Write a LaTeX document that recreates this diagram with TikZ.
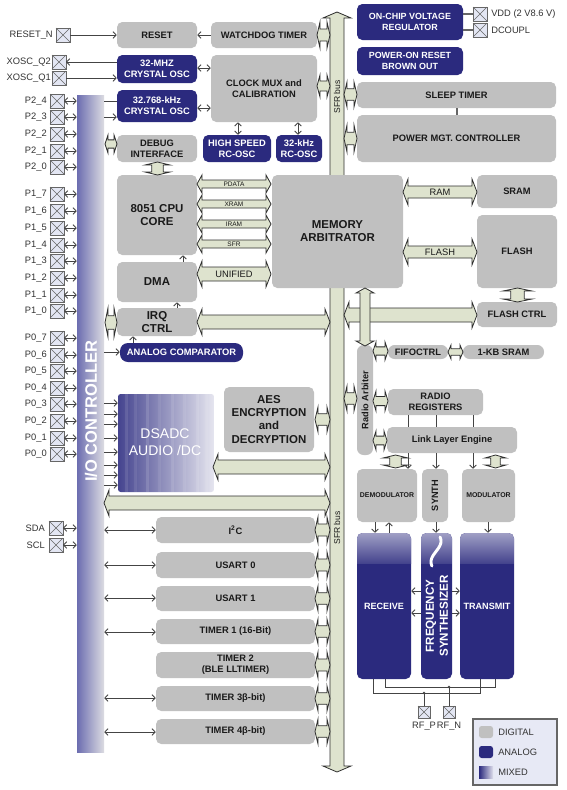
\documentclass[tikz,border=0pt]{standalone}
\usepackage{fontspec}
\setmainfont{Liberation Sans}
\usetikzlibrary{arrows.meta}
\definecolor{dg}{HTML}{C0C0C0}
\definecolor{db}{HTML}{2B2A7E}
\definecolor{lg}{HTML}{DEE3CE}
\definecolor{padf}{HTML}{E3E6F3}
\definecolor{padd}{HTML}{666666}
\definecolor{ioL}{HTML}{6C6DB0}
\definecolor{ioR}{HTML}{DCDCE2}
\definecolor{tx}{HTML}{1A1A1A}
\definecolor{ln}{HTML}{444444}
\definecolor{fatd}{HTML}{2F2F2F}
\definecolor{pint}{HTML}{333333}
\definecolor{legf}{HTML}{E7E9F5}
\newcommand\mkbox[7]{\node[#1,minimum width={(#5-#3)*0.75pt},minimum height={(#6-#4)*0.75pt}] (#2) at ({(#3+#5)/2},{(#4+#6)/2}) {#7};}
\newcommand\mkpad[4][padst]{\node[#1] (#2) at (#3,#4) {}; \draw[padd, line width=0.4pt] (#2.north west) -- (#2.south east) (#2.north east) -- (#2.south west);}
\newcommand\fatH[7][]{\filldraw[fat,#1] ({#2},{#4}) -- ({#2+#7},{#4-#6}) -- ({#2+#7},{#4-#5}) -- ({#3-#7},{#4-#5}) -- ({#3-#7},{#4-#6}) -- ({#3},{#4}) -- ({#3-#7},{#4+#6}) -- ({#3-#7},{#4+#5}) -- ({#2+#7},{#4+#5}) -- ({#2+#7},{#4+#6}) -- cycle;}
\newcommand\fatV[7][]{\filldraw[fat,#1] ({#2},{#3}) -- ({#2+#6},{#3+#7}) -- ({#2+#5},{#3+#7}) -- ({#2+#5},{#4-#7}) -- ({#2+#6},{#4-#7}) -- ({#2},{#4}) -- ({#2-#6},{#4-#7}) -- ({#2-#5},{#4-#7}) -- ({#2-#5},{#3+#7}) -- ({#2-#6},{#3+#7}) -- cycle;}
\newcommand\hgH[4]{\fatH{#1}{#2}{(#3+#4)/2}{0.23*(#4-#3)}{(#4-#3)/2}{3}}
\newcommand\hgV[4]{\fatV{(#1+#2)/2}{#3}{#4}{0.23*(#2-#1)}{(#2-#1)/2}{3}}
\newcommand\hc[4][]{\path (0,#4) coordinate (hcT); \draw[#1] (#2 |- hcT) -- (#3 |- hcT);}
\newcommand\vc[4][]{\path (#4,0) coordinate (vcT); \draw[#1] (#2 -| vcT) -- (#3 -| vcT);}
\begin{document}
\begin{tikzpicture}[x=0.75pt,y=-0.75pt,
 gb/.style={fill=dg, rounded corners=4pt, text=tx, align=center, inner sep=0pt, font=\fontsize{7}{8.3}\selectfont\bfseries},
 bb/.style={gb, fill=db, text=white},
 bigf/.style={font=\fontsize{8.6}{9.8}\selectfont\bfseries},
 arr/.style={draw=ln, line width=0.6pt, -{Straight Barb[length=2.4pt,width=5pt]}},
 darr/.style={draw=ln, line width=0.6pt, {Straight Barb[length=2.4pt,width=5pt]}-{Straight Barb[length=2.4pt,width=5pt]}},
 wire/.style={draw=ln, line width=0.7pt},
 fat/.style={fill=lg, draw=fatd, line width=0.6pt},
 padst/.style={draw=padd, fill=padf, line width=0.6pt, minimum size=10.5pt, inner sep=0pt, outer sep=0pt},
 pinlbl/.style={font=\fontsize{7}{8}\selectfont, text=pint, inner sep=0pt},
 smallf/.style={font=\fontsize{4.9}{6}\selectfont, text=tx, inner sep=0pt},
 midf/.style={font=\fontsize{7}{8}\selectfont, text=tx, inner sep=0pt},
 sfrl/.style={font=\fontsize{6.4}{7}\selectfont, text=tx, inner sep=0pt}]
\useasboundingbox (0,0) rectangle (567,790);
\fill[white] (0,0) rectangle (567,790);

% SFR bus
\fatV{337}{12}{772}{7}{14}{6}
\node[sfrl, rotate=90] (sfr1) at (337,97) {SFR bus};
\node[sfrl, rotate=90] (sfr2) at (337,528) {SFR bus};

% I/O controller bar
\mkbox{left color=ioL, right color=ioR, inner sep=0pt}{io}{77}{95}{104}{752}{}
\node[rotate=90, text=white, font=\fontsize{12.4}{14}\selectfont\bfseries] (iot) at (91,411) {I/O CONTROLLER};

% pins
\foreach \a/\b/\y in {2/4/101,2/3/117,2/2/134,2/1/151,2/0/167,1/7/194,1/6/211,1/5/228,1/4/245,1/3/261,1/2/278,1/1/295,1/0/311,0/7/338,0/6/355,0/5/371,0/4/388,0/3/404,0/2/421,0/1/438,0/0/454}{
 \mkpad{p\a\b}{57}{\y}
 \node[pinlbl, anchor=east] (l\a\b) at (47,\y) {P\a\_\b};
 \draw[darr] (p\a\b.east) -- (p\a\b.east -| io.west);
}
\mkpad{psda}{56}{528}
\node[pinlbl, anchor=east] (lsda) at (45,528) {SDA};
\draw[darr] (psda.east) -- (psda.east -| io.west);
\mkpad{pscl}{56}{545}
\node[pinlbl, anchor=east] (lscl) at (45,545) {SCL};
\draw[darr] (pscl.east) -- (pscl.east -| io.west);

\mkpad{prst}{63}{35}
\node[pinlbl, anchor=east] (lrst) at (53,35) {RESET\_N};
\mkpad{pq2}{59}{62}
\node[pinlbl, anchor=east] (lq2) at (51,62) {XOSC\_Q2};
\mkpad{pq1}{59}{78}
\node[pinlbl, anchor=east] (lq1) at (51,78) {XOSC\_Q1};

% top-left blocks
\mkbox{gb}{reset}{117}{22}{197}{48}{RESET}
\mkbox{gb}{wdt}{211}{22}{317}{48}{WATCHDOG TIMER}
\mkbox{bb}{x32m}{117}{55}{197}{83}{32-MHZ\\CRYSTAL OSC}
\mkbox{bb}{x32k}{117}{90}{197}{122}{32.768-kHz\\CRYSTAL OSC}
\mkbox{gb}{clk}{211}{55}{317}{122}{CLOCK MUX and\\CALIBRATION}
\mkbox{bb}{hsrc}{203}{135}{271}{162}{HIGH SPEED\\RC-OSC}
\mkbox{bb}{rc32}{276}{135}{322}{162}{32-kHz\\RC-OSC}
\mkbox{gb}{dbg}{117}{135}{197}{162}{DEBUG\\INTERFACE}
\mkbox{gb,bigf}{cpu}{117}{175}{197}{255}{8051 CPU\\CORE}
\mkbox{gb,bigf}{dma}{117}{262}{197}{302}{DMA}
\mkbox{gb,bigf}{irq}{117}{308}{197}{336}{IRQ\\CTRL}
\mkbox{bb,rounded corners=6pt}{acmp}{120}{343}{243}{362}{ANALOG COMPARATOR}
\mkbox{gb,bigf}{mem}{272}{175}{403}{288}{MEMORY\\ARBITRATOR}

% top-right blocks
\mkbox{bb,font=\fontsize{6.7}{8.2}\selectfont\bfseries}{vreg}{357}{4}{463}{40}{ON-CHIP VOLTAGE\\REGULATOR}
\mkbox{bb,font=\fontsize{6.7}{8.2}\selectfont\bfseries}{por}{357}{47}{463}{75}{POWER-ON RESET\\BROWN OUT}
\mkbox{gb}{sleep}{357}{82}{556}{108}{SLEEP TIMER}
\mkbox{gb}{pmc}{357}{115}{556}{162}{POWER MGT. CONTROLLER}
\mkbox{gb}{sram}{477}{175}{557}{208}{SRAM}
\mkbox{gb}{flash}{477}{215}{557}{288}{FLASH}
\mkbox{gb}{fctrl}{477}{302}{557}{327}{FLASH CTRL}
\mkbox{gb,rounded corners=5pt}{fifo}{388}{345}{448}{359}{FIFOCTRL}
\mkbox{gb,rounded corners=5pt}{ksram}{463}{345}{544}{359}{1-KB SRAM}

\mkpad{pvdd}{480}{14}
\node[pinlbl, anchor=west] (lvdd) at (491,14) {VDD (2 V8.6 V)};
\mkpad{pdc}{480}{30}
\node[pinlbl, anchor=west] (ldc) at (491,30) {DCOUPL};
\hc[draw=padd, line width=1.1pt]{vreg.east}{pvdd.west}{14}
\hc[draw=padd, line width=1.1pt]{vreg.east}{pdc.west}{30}
\vc[draw=padd, line width=0.8pt]{sleep.south}{pmc.north}{457}

% radio
\mkbox{gb,rounded corners=5pt}{rarb}{357}{345}{373}{455}{}
\node[rotate=90, font=\fontsize{6.9}{8}\selectfont\bfseries, text=tx] (rarbt) at (rarb) {Radio Arbiter};
\mkbox{gb}{rreg}{388}{389}{483}{415}{RADIO\\REGISTERS}
\mkbox{gb}{lle}{387}{427}{517}{453}{Link Layer Engine}
\mkbox{gb,font=\fontsize{5.2}{6}\selectfont\bfseries}{demod}{357}{469}{417}{522}{DEMODULATOR}
\mkbox{gb}{synth}{422}{469}{448}{522}{}
\node[rotate=90, font=\fontsize{6.9}{8}\selectfont\bfseries, text=tx] (syntht) at (synth) {SYNTH};
\mkbox{gb,font=\fontsize{5.2}{6}\selectfont\bfseries}{mod}{462}{469}{515}{522}{MODULATOR}

\mkbox{bb}{rx}{357}{533}{411}{679}{}
\mkbox{bb}{fs}{421}{533}{452}{679}{}
\mkbox{bb}{tx}{460}{533}{514}{679}{}
\foreach \xa/\xb in {357/411,421/452,460/514}{
 \begin{scope}
 \clip[rounded corners=4pt] (\xa,533) rectangle (\xb,679);
 \shade[top color=white!55!db, bottom color=white!12!db] (\xa,533) rectangle (\xb,563);
 \end{scope}
}
\node[font=\fontsize{6.8}{8}\selectfont\bfseries, text=white] (rxt) at (384,606) {RECEIVE};
\node[font=\fontsize{6.8}{8}\selectfont\bfseries, text=white] (txt) at (487,606) {TRANSMIT};
\node[rotate=90, align=center, font=\fontsize{8.7}{10.5}\selectfont\bfseries, text=white] (fst) at (437,616) {FREQUENCY\\SYNTHESIZER};
\draw[white, line width=2.2pt, line cap=round] plot[domain=0.15:0.85, samples=40, smooth] ({436+5*sin(360*\x)},{537+29*(\x-0.15)/0.7});

% middle blocks
\mkbox{gb,bigf}{aes}{224}{387}{314}{452}{AES\\ENCRYPTION\\and\\DECRYPTION}
\mkbox{left color=white!10!db!90!ioL, right color=white!88!db, rounded corners=2pt, inner sep=0pt}{ds}{118}{394}{214}{492}{}
\foreach \xx/\op in {125/0.10,134/0.08,146/0.12,158/0.07,171/0.10,183/0.08,196/0.10,205/0.08}{
 \fill[white, opacity=\op] (\xx,394) rectangle (\xx+3,492);
}
\node[align=center, text=white, font=\fontsize{10.5}{12.5}\selectfont] (dst) at (165,442) {DSADC\\AUDIO /DC};
\mkbox{gb}{i2c}{156}{517}{315}{543}{I\textsuperscript{2}C}
\mkbox{gb}{u0}{156}{552}{315}{578}{USART 0}
\mkbox{gb}{u1}{156}{586}{315}{611}{USART 1}
\mkbox{gb}{t1}{156}{619}{315}{644}{TIMER 1 (16-Bit)}
\mkbox{gb}{t2}{156}{652}{315}{678}{TIMER 2\\(BLE LLTIMER)}
\mkbox{gb}{t3}{156}{686}{315}{711}{TIMER 3β-bit)}
\mkbox{gb}{t4}{156}{719}{315}{744}{TIMER 4β-bit)}

% fat arrows
\fatH{197}{271}{184}{4}{9}{5}
\node[smallf] (lpd) at (234,184) {PDATA};
\fatH{197}{271}{204}{4}{9}{5}
\node[smallf] (lxr) at (234,204) {XRAM};
\fatH{197}{271}{224}{4}{9}{5}
\node[smallf] (lir) at (234,224) {IRAM};
\fatH{197}{271}{244}{4}{9}{5}
\node[smallf] (lsf) at (234,244) {SFR};
\fatH{197}{271}{274}{7}{13}{5}
\node[midf] (lun) at (234,274) {UNIFIED};
\fatH{197}{330}{322}{7}{13}{5}
\fatH{403}{477}{192}{6}{13}{5}
\node[midf] (lram) at (440,192) {RAM};
\fatH{403}{477}{252}{6}{13}{5}
\node[midf] (lfl) at (440,252) {FLASH};
\fatH{344}{477}{315}{7}{13}{5}
\fatV{365}{288}{346}{5}{9}{5}
\fatH{213}{330}{467}{7}{13}{5}
\fatH{104}{330}{503}{7}{13}{5}

% hourglass connectors
\hgH{317}{330}{22}{48}
\hgH{317}{330}{75}{97}
\hgH{344}{357}{82}{107}
\hgH{344}{357}{125}{152}
\hgH{105}{117}{135}{153}
\hgH{105}{117}{308}{337}
\hgH{315}{330}{407}{432}
\hgH{344}{357}{386}{411}
\hgH{373}{388}{342}{360}
\hgH{448}{463}{345}{359}
\hgH{373}{388}{391}{411}
\hgH{373}{387}{431}{450}
\hgV{145}{170}{162}{175}
\hgV{503}{532}{288}{302}
\hgV{383}{408}{455}{468}
\hgV{485}{506}{455}{468}
\foreach \ya/\yb in {517/543,552/578,586/611,619/644,652/678,686/711,719/744}{\hgH{315}{330}{\ya}{\yb}}

% thin connectors
\hc[arr]{prst.east}{reset.west}{35}
\hc[arr]{wdt.west}{reset.east}{35}
\hc[arr]{x32m.west}{pq2.east}{62}
\hc[arr]{pq1.east}{x32m.west}{78}
\hc[wire]{io.east}{x32k.west}{101}
\hc[arr]{io.east}{x32k.west}{117}
\hc[darr]{clk.west}{x32m.east}{68}
\hc[darr]{clk.west}{x32k.east}{108}
\vc[darr]{clk.south}{hsrc.north}{238}
\vc[darr]{clk.south}{rc32.north}{298}
\vc[arr]{dma.north}{cpu.south}{183}
\vc[arr]{irq.north}{dma.south}{177}
\vc[arr]{acmp.north}{irq.south}{133}
\hc[arr]{io.east}{acmp.west}{352}
\foreach \y in {403,414,424,438,452,465,475,485}{\hc[arr]{io.east}{ds.west}{\y}}
\foreach \n/\y in {i2c/530,u0/565,u1/598,t1/632,t3/698,t4/732}{\hc[darr]{io.east}{\n.west}{\y}}
\foreach \x in {408,436,473}{\vc[wire]{rreg.south}{lle.north}{\x}}
\vc[arr]{lle.south}{demod.north}{408}
\vc[arr]{lle.south}{synth.north}{436}
\vc[arr]{lle.south}{mod.north}{473}
\vc[arr]{demod.south}{rx.north}{375}
\vc[arr]{rx.north}{demod.south}{389}
\vc[arr]{synth.south}{fs.north}{436}
\vc[arr]{mod.south}{tx.north}{488}
\hc[arr]{fs.west}{rx.east}{591}
\hc[arr]{fs.west}{rx.east}{613}
\hc[arr]{fs.east}{tx.west}{591}
\hc[arr]{fs.east}{tx.west}{613}

% RF wiring
\mkpad[padst,minimum size=9pt]{rfp}{424}{712}
\mkpad[padst,minimum size=9pt]{rfn}{449}{712}
\node[pinlbl] (lrfp) at (424,726) {RF\_P};
\node[pinlbl] (lrfn) at (449,726) {RF\_N};
\coordinate (w1) at (373,693); \coordinate (w2) at (480,693);
\coordinate (w3) at (385,687); \coordinate (w4) at (495,687);
\draw[wire] (rx.south -| w1) -- (w1) -- (w2) -- (tx.south -| w2);
\draw[wire] (rx.south -| w3) -- (w3) -- (w4) -- (tx.south -| w4);
\coordinate (j1) at (424,693); \coordinate (j2) at (449,687);
\fill[ln] (j1) circle (1.4); \fill[ln] (j2) circle (1.4);
\draw[wire] (j1) -- (rfp.north);
\draw[wire] (j2) -- (rfn.north);

% legend
\mkbox{draw=padd, fill=legf, line width=0.8pt, inner sep=0pt}{leg}{473}{719}{557}{785}{}
\mkbox{gb,rounded corners=2pt}{lgd}{479}{726}{493}{738}{}
\mkbox{bb,rounded corners=2pt}{lga}{479}{746}{493}{758}{}
\mkbox{left color=db, right color=white!85!db, inner sep=0pt}{lgm}{479}{766}{493}{778}{}
\node[pinlbl, anchor=west] (tdig) at (498,732) {DIGITAL};
\node[pinlbl, anchor=west] (tana) at (498,752) {ANALOG};
\node[pinlbl, anchor=west] (tmix) at (498,772) {MIXED};
\end{tikzpicture}
\end{document}
